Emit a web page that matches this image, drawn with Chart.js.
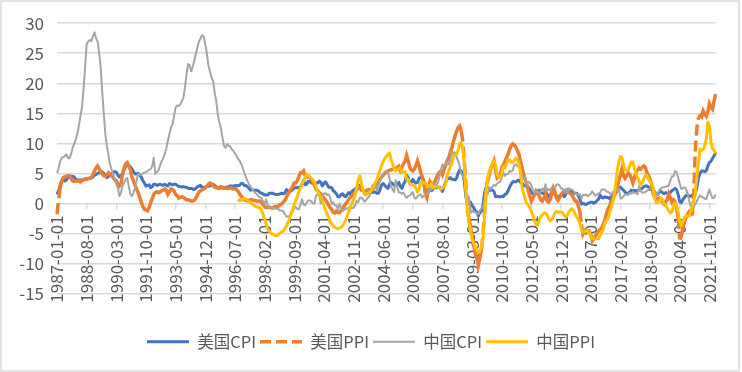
<!DOCTYPE html>
<html><head><meta charset="utf-8">
<script src="https://cdn.jsdelivr.net/npm/chart.js@4.4.1/dist/chart.umd.min.js"></script>
<style>html,body{margin:0;padding:0;background:#fff}canvas{display:block}</style>
</head><body>
<canvas id="c" width="742" height="372"></canvas>
<script>
const tickLabels = ['1987-01-01','1988-08-01','1990-03-01','1991-10-01','1993-05-01','1994-12-01','1996-07-01','1998-02-01','1999-09-01','2001-04-01','2002-11-01','2004-06-01','2006-01-01','2007-08-01','2009-03-01','2010-10-01','2012-05-01','2013-12-01','2015-07-01','2017-02-01','2018-09-01','2020-04-01','2021-11-01'];
const seriesNames = ['美国CPI','美国PPI','中国CPI','中国PPI'];

const usCPI = [
1.5,2.1,3.0,3.8,3.9,3.7,3.9,4.3,4.4,4.5,4.5,4.4,
4.0,3.9,3.9,3.9,3.9,4.0,4.1,4.0,4.2,4.2,4.2,4.4,
4.7,4.8,5.0,5.1,5.4,5.2,5.0,4.7,4.3,4.5,4.7,4.6,
5.2,5.3,5.2,4.7,4.4,4.7,4.8,5.6,6.2,6.3,6.3,6.1,
5.7,5.3,4.9,4.9,5.0,4.7,4.4,3.8,3.4,2.9,3.0,3.1,
2.6,2.8,3.2,3.2,3.0,3.1,3.2,3.1,3.0,3.2,3.0,2.9,
3.3,3.2,3.1,3.2,3.2,3.0,2.8,2.8,2.7,2.8,2.7,2.7,
2.5,2.5,2.5,2.4,2.3,2.5,2.8,2.9,3.0,2.6,2.7,2.7,
2.8,2.9,2.9,3.1,3.2,3.0,2.8,2.6,2.5,2.8,2.6,2.5,
2.7,2.7,2.8,2.9,2.9,2.8,3.0,2.9,3.0,3.0,3.3,3.3,
3.0,3.0,2.8,2.5,2.2,2.3,2.2,2.2,2.2,2.1,1.8,1.7,
1.6,1.4,1.4,1.4,1.7,1.7,1.7,1.6,1.5,1.5,1.5,1.6,
1.7,1.6,1.7,2.3,2.1,2.0,2.1,2.3,2.6,2.6,2.6,2.7,
2.7,3.2,3.8,3.1,3.2,3.7,3.7,3.4,3.5,3.4,3.4,3.4,
3.7,3.5,2.9,3.3,3.6,3.2,2.7,2.7,2.6,2.1,1.9,1.6,
1.1,1.1,1.5,1.6,1.2,1.1,1.5,1.8,1.5,2.0,2.2,2.4,
2.6,3.0,3.0,2.2,2.1,2.1,2.1,2.2,2.3,2.0,1.8,1.9,
1.9,1.7,1.7,2.3,3.1,3.3,3.0,2.7,2.5,3.2,3.5,3.3,
3.0,3.0,3.1,3.5,2.8,2.5,3.2,3.6,4.7,4.3,3.5,3.4,
4.0,3.6,3.4,3.5,4.2,4.3,4.1,3.8,2.1,1.3,2.0,2.5,
2.1,2.4,2.8,2.6,2.7,2.7,2.4,2.0,2.8,3.5,4.3,4.1,
4.3,4.0,4.0,3.9,4.2,5.0,5.6,5.4,4.9,3.7,1.1,0.1,
0.0,0.2,-0.4,-0.7,-1.3,-1.4,-2.1,-1.5,-1.3,-0.2,1.8,2.7,
2.6,2.1,2.3,2.2,2.0,1.1,1.2,1.1,1.1,1.2,1.1,1.5,
1.6,2.1,2.7,3.2,3.6,3.6,3.6,3.8,3.9,3.5,3.4,3.0,
2.9,2.9,2.7,2.3,1.7,1.7,1.4,1.7,2.0,2.2,1.8,1.7,
1.6,2.0,1.5,1.1,1.4,1.8,2.0,1.5,1.2,1.0,1.2,1.5,
1.6,1.1,1.5,2.0,2.1,2.1,2.0,1.7,1.7,1.7,1.3,0.8,
-0.1,0.0,-0.1,-0.2,0.0,0.1,0.2,0.2,0.0,0.2,0.5,0.7,
1.4,1.0,0.9,1.1,1.0,1.0,0.8,1.1,1.5,1.6,1.7,2.1,
2.5,2.7,2.4,2.2,1.9,1.6,1.7,1.9,2.2,2.0,2.2,2.1,
2.1,2.2,2.4,2.5,2.8,2.9,2.9,2.7,2.3,2.5,2.2,1.9,
1.6,1.5,1.9,2.0,1.8,1.6,1.8,1.7,1.7,1.8,2.1,2.3,
2.5,2.3,1.5,0.3,0.1,0.6,1.0,1.3,1.4,1.2,1.2,1.4,
1.4,1.7,2.6,4.2,5.0,5.4,5.4,5.3,5.4,6.2,6.8,7.0,
7.5,7.9,8.5];

const usPPI = [
-1.8,0.5,2.6,3.6,4.3,4.4,4.5,4.6,4.6,4.2,3.75,3.7,
3.7,3.75,3.75,3.6,3.8,3.9,4.0,4.1,4.1,4.2,4.3,4.8,
5.4,5.9,6.25,5.8,5.2,4.9,4.6,4.5,4.8,5.1,4.8,4.6,
4.3,3.9,3.75,3.3,2.9,3.2,4.9,5.9,6.6,6.8,6.2,5.6,
4.4,3.75,3.0,2.4,1.8,1.0,0.2,-0.5,-1.0,-1.1,-1.25,-0.7,
0.1,0.8,1.5,1.8,1.9,1.8,1.9,2.1,2.2,2.4,2.2,1.5,
1.9,2.4,2.3,2.1,1.5,1.3,0.9,1.0,1.1,1.0,0.8,0.6,
0.6,0.5,0.4,0.4,0.5,0.9,1.4,1.9,2.1,2.3,2.4,2.6,
2.8,3.2,3.4,3.2,3.0,2.7,2.6,2.6,2.5,2.6,2.7,2.6,
2.6,2.5,2.5,2.6,2.5,2.4,2.5,2.3,2.0,1.6,1.2,0.9,
0.6,0.5,0.4,0.5,0.6,0.6,0.5,0.5,0.4,0.4,0.4,0.2,
-0.2,-0.5,-0.7,-0.7,-0.6,-0.7,-0.8,-0.6,-0.5,-0.6,-0.4,-0.2,
-0.1,0.2,0.5,1.0,1.6,2.0,2.4,2.8,3.4,3.4,3.8,4.5,
5.1,5.1,5.4,4.6,4.4,4.6,4.3,3.9,3.5,3.0,2.4,2.1,
1.8,1.6,1.2,0.9,0.6,0.2,-0.3,-0.7,-1.0,-1.5,-1.6,-1.3,
-1.5,-1.5,-1.2,-0.8,-0.4,-0.1,0.3,0.7,1.0,1.3,1.6,1.8,
2.3,2.5,2.7,2.4,2.2,2.0,2.1,2.2,2.1,2.0,2.3,2.6,
2.9,3.2,3.7,4.0,4.4,4.7,5.0,5.2,5.4,5.5,5.6,5.7,
5.7,5.8,6.0,6.2,5.5,6.0,6.6,7.0,8.0,7.1,6.0,5.6,
5.4,5.7,6.3,7.1,6.3,5.1,4.5,3.5,1.5,0.9,2.4,3.6,
3.2,3.25,3.6,4.2,4.8,5.2,5.4,4.8,5.6,6.3,7.1,7.6,
8.5,9.25,10.3,11.2,12.0,12.6,12.9,12.1,10.4,7.0,3.0,-1.3,
-2.5,-4.0,-5.4,-6.8,-8.4,-9.1,-10.3,-9.0,-7.6,-5.0,-1.3,3.0,
3.75,4.8,5.9,6.5,7.1,5.6,4.25,4.5,4.8,5.9,6.4,7.0,
7.6,8.2,9.0,9.6,9.9,9.7,9.4,8.8,8.2,7.0,5.9,4.8,
4.0,3.1,2.1,1.2,0.4,0.9,1.5,2.1,1.8,1.2,0.6,0.4,
0.9,1.5,0.4,0.2,0.6,1.8,2.6,2.0,0.9,0.5,0.9,1.5,
1.8,2.1,1.9,2.2,1.9,1.6,1.4,0.9,0.4,0.4,-0.4,-1.25,
-3.5,-5.1,-4.6,-4.9,-4.6,-4.6,-5.2,-6.25,-5.9,-5.5,-4.9,-4.6,
-4.3,-4.1,-3.5,-2.8,-1.8,-1.0,-0.5,0.4,0.6,1.2,1.9,2.6,
3.8,4.7,5.75,4.6,4.2,4.6,5.1,4.8,4.2,3.4,4.3,5.3,
5.5,5.9,5.7,6.0,6.25,6.0,5.1,4.6,4.0,3.2,1.6,1.0,
0.9,0.7,0.9,0.8,0.2,-0.1,0.3,0.6,1.6,0.9,0.2,0.6,
0.3,-0.8,-2.4,-6.0,-5.5,-4.1,-3.2,-2.4,-1.8,-1.4,-1.8,-2.0,
1.5,9.0,12.5,14.3,14.6,14.4,15.4,14.9,14.5,15.2,16.6,16.0,
15.7,17.0,18.2];

const cnCPI = [
5.1,5.8,6.9,7.6,7.7,7.9,8.2,7.6,7.5,8.2,9.25,9.9,
10.6,11.6,12.9,14.5,16.0,19.0,22.6,26.5,27.0,27.2,27.0,27.8,
28.5,27.5,27.0,25.0,22.6,18.5,14.9,11.5,9.5,8.0,6.5,5.6,
4.9,4.0,3.2,2.6,1.2,1.8,2.9,3.4,4.0,4.25,2.8,1.6,
1.2,1.75,2.5,3.8,4.9,4.7,4.9,5.0,5.1,5.2,5.4,5.6,
5.7,6.2,7.6,4.9,5.2,5.5,6.3,7.0,7.5,8.2,9.1,10.4,
11.5,12.6,13.2,14.5,16.0,16.3,16.2,16.5,17.0,17.6,19.3,21.5,
23.2,23.0,22.0,22.8,23.75,25.0,26.0,27.0,27.5,28.0,27.8,26.5,
25.0,23.0,22.0,21.0,20.4,18.5,17.1,14.9,13.5,12.6,11.0,9.6,
9.25,9.9,9.6,9.5,9.0,8.75,8.3,7.9,7.4,7.1,6.6,5.9,
5.1,4.4,3.75,3.25,2.8,2.4,2.0,1.75,1.5,1.2,1.0,0.9,
0.3,-0.1,0.7,-0.3,-0.7,-0.7,-0.8,-0.7,-0.9,-0.8,-1.0,-1.2,
-1.2,-1.3,-1.8,-2.2,-2.2,-2.1,-1.4,-1.3,-0.8,-0.6,-0.9,-1.0,
-0.2,0.7,-0.2,-0.3,0.1,0.5,0.5,0.3,0.0,0.0,1.3,1.5,
1.2,0.0,0.8,1.6,1.7,1.4,1.5,1.0,-0.1,0.2,-0.3,-0.3,
-1.0,0.0,-0.8,-1.3,-1.1,-0.8,-0.9,-0.7,-0.7,-0.8,-0.7,-0.4,
0.4,0.2,0.9,1.0,0.7,0.3,0.5,0.9,1.1,1.8,3.0,3.2,
3.2,2.1,3.0,3.8,4.4,5.0,5.3,5.3,5.2,4.3,2.8,2.4,
1.9,3.9,2.7,1.8,1.8,1.6,1.8,1.3,0.9,1.2,1.3,1.6,
1.9,0.9,0.8,1.2,1.4,1.5,1.0,1.3,1.5,1.4,1.9,2.8,
2.2,2.7,3.3,3.0,3.4,4.4,5.6,6.5,6.2,6.5,6.9,6.5,
7.1,8.7,8.3,8.5,7.7,7.1,6.3,4.9,4.6,4.0,2.4,1.2,
1.0,-1.6,-1.2,-1.5,-1.4,-1.7,-1.8,-1.2,-0.8,-0.5,0.6,1.9,
1.5,2.7,2.4,2.8,3.1,2.9,3.3,3.5,3.6,4.4,5.1,4.6,
4.9,4.9,5.4,5.3,5.5,6.4,6.5,6.2,6.1,5.5,4.2,4.1,
4.5,3.2,3.6,3.4,3.0,2.2,1.8,2.0,1.9,1.7,2.0,2.5,
2.0,3.2,2.1,2.4,2.1,2.7,2.7,2.6,3.1,3.2,3.0,2.5,
2.5,2.0,2.4,1.8,2.5,2.3,2.3,2.0,1.6,1.6,1.4,1.5,
0.8,1.4,1.4,1.5,1.2,1.4,1.6,2.0,1.6,1.3,1.5,1.6,
1.8,2.3,2.3,2.3,2.0,1.9,1.8,1.3,1.9,2.1,2.3,2.1,
2.5,0.8,0.9,1.2,1.5,1.5,1.4,1.8,1.6,1.9,1.7,1.8,
1.5,2.9,2.1,1.8,1.8,1.9,2.1,2.3,2.5,2.5,2.2,1.9,
1.7,1.5,2.3,2.5,2.7,2.7,2.8,2.8,3.0,3.8,4.5,4.5,
5.4,5.2,4.3,3.3,2.4,2.5,2.7,2.4,1.7,0.5,-0.5,0.2,
-0.3,-0.2,0.4,0.9,1.3,1.1,1.0,0.8,0.7,1.5,2.3,1.5,
0.9,0.9,1.5];

const cnPPI = [
null,null,null,null,null,null,null,null,null,null,null,null,
null,null,null,null,null,null,null,null,null,null,null,null,
null,null,null,null,null,null,null,null,null,null,null,null,
null,null,null,null,null,null,null,null,null,null,null,null,
null,null,null,null,null,null,null,null,null,null,null,null,
null,null,null,null,null,null,null,null,null,null,null,null,
null,null,null,null,null,null,null,null,null,null,null,null,
null,null,null,null,null,null,null,null,null,null,null,null,
null,null,null,null,null,null,null,null,null,null,null,null,
null,null,null,null,null,null,null,null,0.3,0.6,0.5,0.7,
0.8,0.75,0.5,0.3,0.1,-0.1,-0.3,-0.5,-0.6,-0.7,-0.7,-1.2,
-1.8,-2.6,-3.4,-4.2,-4.6,-4.9,-5.1,-5.2,-5.4,-5.4,-5.2,-4.9,
-4.8,-4.6,-4.2,-3.8,-3.2,-2.5,-1.8,-1.0,-0.2,0.5,1.2,2.0,
2.6,3.2,3.75,4.3,4.9,4.7,4.4,4.2,3.9,3.5,2.8,2.0,
1.6,1.0,0.4,-0.3,-1.0,-1.8,-2.4,-2.9,-3.4,-3.8,-4.0,-4.1,
-4.2,-4.1,-4.0,-3.7,-3.3,-2.7,-2.0,-1.3,-0.6,0.0,0.6,1.3,
2.5,3.9,4.6,3.4,2.3,1.5,1.4,1.6,1.8,2.0,2.5,3.0,
3.5,4.0,4.8,5.5,6.3,7.0,7.5,7.8,8.1,8.4,7.4,6.6,
5.8,5.4,5.6,5.8,5.9,5.2,5.2,5.3,4.0,4.0,3.2,3.2,
3.1,3.0,2.5,1.9,2.4,3.5,3.6,3.4,3.5,2.9,2.8,3.1,
3.3,2.6,2.7,2.8,2.8,2.5,2.4,2.6,2.7,3.2,4.6,5.4,
6.1,6.6,8.0,8.1,8.2,8.8,10.0,10.1,9.1,6.6,2.0,-1.1,
-3.3,-4.5,-6.0,-6.6,-7.2,-7.8,-8.2,-7.9,-7.0,-5.8,-2.1,1.7,
4.3,5.4,5.9,6.8,7.1,6.4,4.8,4.3,4.3,5.0,6.1,5.9,
6.6,7.2,7.3,6.8,6.8,7.1,7.5,7.3,6.5,5.0,2.7,1.7,
0.7,0.0,-0.3,-0.7,-1.4,-2.1,-2.9,-3.5,-3.6,-2.8,-2.2,-1.9,
-1.6,-1.6,-1.9,-2.6,-2.9,-2.7,-2.3,-1.6,-1.3,-1.5,-1.4,-1.4,
-1.6,-2.0,-2.3,-2.0,-1.4,-1.1,-0.9,-1.2,-1.8,-2.2,-2.7,-3.3,
-4.3,-4.8,-4.6,-4.6,-4.6,-4.8,-5.4,-5.9,-5.9,-5.9,-5.9,-5.9,
-5.3,-4.9,-4.3,-3.4,-2.8,-2.6,-1.7,-0.8,0.1,1.2,3.3,5.5,
6.9,7.8,7.6,6.4,5.5,5.5,5.5,6.3,6.9,6.9,5.8,4.9,
4.3,3.7,3.1,3.4,4.1,4.7,4.6,4.1,3.6,3.3,2.7,0.9,
0.1,0.1,0.4,0.9,0.6,0.0,-0.3,-0.8,-1.2,-1.6,-1.4,-0.5,
0.1,-0.4,-1.5,-3.1,-3.7,-3.0,-2.4,-2.0,-2.1,-2.1,-1.5,-0.4,
0.3,1.7,4.4,6.8,9.0,8.8,9.0,9.5,10.7,13.5,12.9,10.3,
9.1,8.8,8.3];

// monthly categories 1987-01-01 ... (one per value)
const categories = [];
for (let y = 1987; categories.length < usCPI.length; y++) {
  for (let m = 1; m <= 12 && categories.length < usCPI.length; m++) {
    categories.push(y + '-' + String(m).padStart(2, '0') + '-01');
  }
}
const TICK_EVERY = 19;

const FONT = '"Noto Sans CJK SC", "Liberation Sans", sans-serif';
const TEXT = '#595959';
const GRID = '#d9d9d9';

const bgPlugin = {
  id: 'bg',
  beforeDraw(c) {
    const g = c.ctx;
    g.save();
    g.fillStyle = '#fff';
    g.fillRect(0, 0, c.width, c.height);
    g.strokeStyle = GRID;
    g.lineWidth = 1.5;
    g.strokeRect(1, 1, c.width - 4, c.height - 2);
    g.restore();
  }
};

const base = { pointRadius: 0, pointHoverRadius: 0, tension: 0, fill: false, xAxisID: 'x', yAxisID: 'y', borderJoinStyle: 'round' };

new Chart(document.getElementById('c'), {
  type: 'line',
  data: {
    labels: categories,
    datasets: [
      Object.assign({}, base, { label: seriesNames[0], data: usCPI, borderColor: '#4472C4', backgroundColor: '#4472C4', borderWidth: 3, order: 4 }),
      Object.assign({}, base, { label: seriesNames[1], data: usPPI, borderColor: '#ED7D31', backgroundColor: '#ED7D31', borderWidth: 3.5, order: 3,
        borderDash: [11, 5], borderJoinStyle: 'miter',
        segment: { borderDash: c => (Math.abs(c.p1.parsed.y - c.p0.parsed.y) * 6 > 10 ? undefined : []) } }),
      Object.assign({}, base, { label: seriesNames[2], data: cnCPI, borderColor: '#A5A5A5', backgroundColor: '#A5A5A5', borderWidth: 2, order: 2 }),
      Object.assign({}, base, { label: seriesNames[3], data: cnPPI, borderColor: '#FFC000', backgroundColor: '#FFC000', borderWidth: 3, order: 1 })
    ]
  },
  plugins: [bgPlugin],
  options: {
    responsive: false,
    animation: false,
    events: [],
    layout: { padding: { top: 22, left: 0, right: 0, bottom: 12 } },
    plugins: {
      legend: {
        position: 'bottom',
        labels: {
          usePointStyle: true, pointStyle: 'line', pointStyleWidth: 42,
          padding: 4, color: TEXT, font: { family: FONT, size: 16.5 },
          generateLabels: ch => ch.data.datasets.map((ds, i) => ({
            text: ds.label, fillStyle: ds.borderColor, strokeStyle: ds.borderColor,
            lineWidth: ds.borderWidth, lineDash: ds.borderDash || [], lineCap: 'butt',
            pointStyle: 'line', hidden: false, datasetIndex: i, fontColor: TEXT
          }))
        }
      },
      tooltip: { enabled: false }
    },
    scales: {
      x: {
        type: 'category',
        position: { y: 0 },
        offset: false,
        grid: { display: true, drawOnChartArea: false, drawTicks: true, tickLength: 6, lineWidth: 1.5,
          color: c => (c.index % TICK_EVERY === 0 ? GRID : 'rgba(0,0,0,0)') },
        border: { display: false },
        ticks: { autoSkip: false, minRotation: 90, maxRotation: 90, padding: 6, color: TEXT,
          font: { family: FONT, size: 17 },
          callback: (v, i) => (i % TICK_EVERY === 0 ? tickLabels[i / TICK_EVERY] : '') }
      },
      xpad: {
        type: 'linear', position: 'bottom', display: true,
        grid: { display: false, drawTicks: false }, border: { display: false }, ticks: { display: false },
        afterFit: s => { s.height = 36; }
      },
      ypad: {
        type: 'linear', position: 'right', display: true,
        grid: { display: false, drawTicks: false }, border: { display: false }, ticks: { display: false },
        afterFit: s => { s.width = 24; }
      },
      y: {
        min: -15, max: 30,
        ticks: { stepSize: 5, padding: 13, color: TEXT, font: { family: FONT, size: 17 } },
        grid: { color: GRID, lineWidth: 1.5, drawTicks: false },
        border: { display: false },
        afterFit: s => { s.width = 57; }
      }
    }
  }
});
</script>
</body></html>
